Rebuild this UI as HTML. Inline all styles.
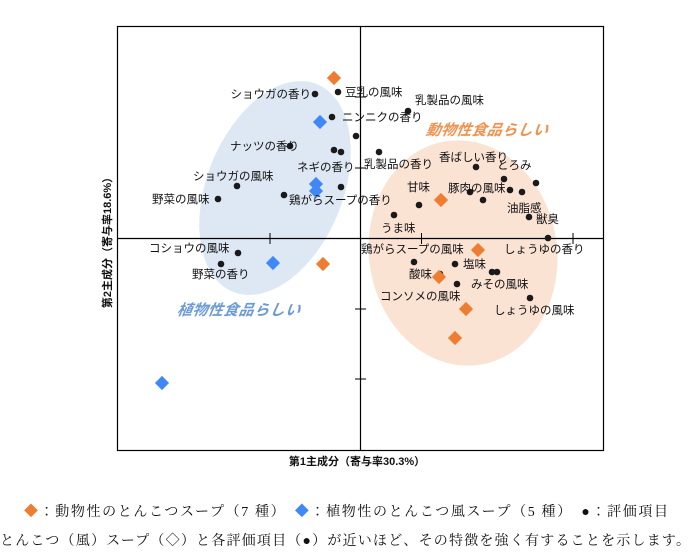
<!DOCTYPE html>
<html><head><meta charset="utf-8"><style>
body{margin:0;background:#fff;width:691px;height:555px;overflow:hidden}
svg{display:block}
.t{font-family:"Liberation Sans","Noto Sans CJK JP",sans-serif;font-size:11.5px;fill:#111}
.s{font-family:"Liberation Serif","Noto Serif CJK JP",serif;font-size:14px;fill:#111}
</style></head><body>
<svg width="691" height="555" viewBox="0 0 691 555">
<ellipse cx="275" cy="188" rx="68" ry="112" transform="rotate(22 275 188)" fill="#dde8f4"/>
<ellipse cx="463" cy="253" rx="94" ry="113" transform="rotate(-8 463 253)" fill="#fbe3d4"/>
<rect x="117.5" y="26.5" width="486" height="424" fill="none" stroke="#000" stroke-width="1.2"/>
<line x1="360.5" y1="26" x2="360.5" y2="450" stroke="#000" stroke-width="1.2"/>
<line x1="117" y1="238.5" x2="603" y2="238.5" stroke="#000" stroke-width="1.2"/>
<g stroke="#000" stroke-width="1">
<line x1="270" y1="233" x2="270" y2="244"/><line x1="421.5" y1="233" x2="421.5" y2="244"/><line x1="573" y1="233" x2="573" y2="244"/>
<line x1="355" y1="97" x2="366" y2="97"/><line x1="355" y1="168" x2="366" y2="168"/><line x1="355" y1="309" x2="366" y2="309"/><line x1="355" y1="379" x2="366" y2="379"/>
</g>
<g fill="#1a1a1a">
<circle cx="315" cy="94" r="3.3"/><circle cx="338" cy="92" r="3.3"/><circle cx="332" cy="117" r="3.3"/><circle cx="356" cy="136" r="3.3"/>
<circle cx="334" cy="150" r="3.3"/><circle cx="341" cy="152" r="3.3"/><circle cx="290" cy="146" r="3.3"/><circle cx="379" cy="152" r="3.3"/>
<circle cx="341" cy="187" r="3.3"/><circle cx="237" cy="186" r="3.3"/><circle cx="218" cy="199" r="3.3"/><circle cx="284" cy="195" r="3.3"/>
<circle cx="394" cy="215" r="3.3"/><circle cx="408" cy="111" r="3.3"/><circle cx="476" cy="167" r="3.3"/>
<circle cx="504" cy="179" r="3.3"/><circle cx="536" cy="183" r="3.3"/><circle cx="510" cy="190" r="3.3"/><circle cx="522" cy="192" r="3.3"/>
<circle cx="470" cy="192" r="3.3"/><circle cx="483" cy="200" r="3.3"/><circle cx="419" cy="205" r="3.3"/><circle cx="529" cy="217" r="3.3"/>
<circle cx="548" cy="238" r="3.3"/><circle cx="238" cy="253" r="3.3"/><circle cx="221" cy="264" r="3.3"/><circle cx="414" cy="262" r="3.3"/>
<circle cx="455" cy="264" r="3.3"/><circle cx="492" cy="272" r="3.3"/><circle cx="497" cy="272" r="3.3"/><circle cx="440" cy="274" r="3.3"/>
<circle cx="457" cy="284" r="3.3"/><circle cx="530" cy="298" r="3.3"/>
</g>
<g fill="#ee7d31">
<rect x="-5" y="-5" width="10" height="10" transform="translate(334 78) rotate(45)"/>
<rect x="-5" y="-5" width="10" height="10" transform="translate(441 200) rotate(45)"/>
<rect x="-5" y="-5" width="10" height="10" transform="translate(478 250) rotate(45)"/>
<rect x="-5" y="-5" width="10" height="10" transform="translate(323 264) rotate(45)"/>
<rect x="-5" y="-5" width="10" height="10" transform="translate(439 277) rotate(45)"/>
<rect x="-5" y="-5" width="10" height="10" transform="translate(466 309) rotate(45)"/>
<rect x="-5" y="-5" width="10" height="10" transform="translate(455 338) rotate(45)"/>
</g>
<g fill="#3f88f5">
<rect x="-5" y="-5" width="10" height="10" transform="translate(320 122) rotate(45)"/>
<rect x="-5" y="-5" width="10" height="10" transform="translate(316 184) rotate(45)"/>
<rect x="-5" y="-5" width="10" height="10" transform="translate(316 191) rotate(45)"/>
<rect x="-5" y="-5" width="10" height="10" transform="translate(273 263) rotate(45)"/>
<rect x="-5" y="-5" width="10" height="10" transform="translate(162 383) rotate(45)"/>
</g>
<g class="t">
<text x="311" y="98" text-anchor="end">ショウガの香り</text>
<text x="345" y="96">豆乳の風味</text>
<text x="342" y="121">ニンニクの香り</text>
<text x="415" y="104">乳製品の風味</text>
<text x="230" y="150">ナッツの香り</text>
<text x="297" y="171">ネギの香り</text>
<text x="364" y="168">乳製品の香り</text>
<text x="193" y="180">ショウガの風味</text>
<text x="152" y="203">野菜の風味</text>
<text x="289" y="204">鶏がらスープの香り</text>
<text x="381" y="232">うま味</text>
<text x="439" y="161">香ばしい香り</text>
<text x="497" y="169">とろみ</text>
<text x="448" y="192">豚肉の風味</text>
<text x="407" y="191">甘味</text>
<text x="507" y="212">油脂感</text>
<text x="536" y="223">獣臭</text>
<text x="504" y="253">しょうゆの香り</text>
<text x="361" y="253">鶏がらスープの風味</text>
<text x="149" y="252">コショウの風味</text>
<text x="192" y="278">野菜の香り</text>
<text x="463" y="268">塩味</text>
<text x="409" y="278">酸味</text>
<text x="471" y="288">みその風味</text>
<text x="380" y="300">コンソメの風味</text>
<text x="494" y="314">しょうゆの風味</text>
</g>
<text x="425" y="135" textLength="122" font-family="Liberation Sans,Noto Sans CJK JP,sans-serif" font-size="15" font-style="italic" font-weight="bold" fill="#f0924d" transform="skewX(-10) translate(24 0)">動物性食品らしい</text>
<text x="177" y="315" textLength="123" font-family="Liberation Sans,Noto Sans CJK JP,sans-serif" font-size="15" font-style="italic" font-weight="bold" fill="#6b9bd6" transform="skewX(-10) translate(55 0)">植物性食品らしい</text>
<text x="357" y="465" text-anchor="middle" font-family="Liberation Sans,Noto Sans CJK JP,sans-serif" font-size="11" font-weight="bold" fill="#111">第1主成分（寄与率30.3%）</text>
<text transform="translate(111 240) rotate(-90)" text-anchor="middle" font-family="Liberation Sans,Noto Sans CJK JP,sans-serif" font-size="11" font-weight="bold" fill="#111">第2主成分（寄与率18.6%）</text>
<text x="24" y="516" class="s" textLength="644"><tspan fill="#ee7d31">◆</tspan>：動物性のとんこつスープ（7 種）　<tspan fill="#3f88f5">◆</tspan>：植物性のとんこつ風スープ（5 種）　●：評価項目</text>
<text x="0" y="545" class="s" textLength="690">とんこつ（風）スープ（◇）と各評価項目（●）が近いほど、その特徴を強く有することを示します。</text>
</svg>
</body></html>
